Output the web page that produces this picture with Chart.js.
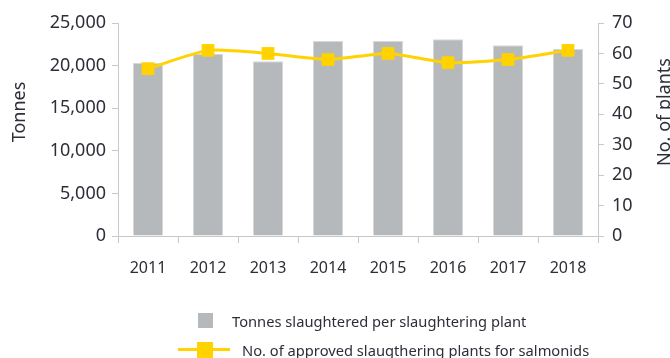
<!DOCTYPE html>
<html>
<head>
<meta charset="utf-8">
<script src="https://cdn.jsdelivr.net/npm/chart.js@4.4.1/dist/chart.umd.min.js"></script>
<style>
  html, body { margin: 0; padding: 0; background: #fff; }
  #wrap { position: relative; width: 670px; height: 358px; overflow: hidden; font-family: "Noto Sans", sans-serif; color: #2e2e38; }
  #chart { position: absolute; left: 0; top: 0; }
  .lg { position: absolute; font-size: 14.7px; line-height: 20px; white-space: nowrap; color: #2e2e38; }
  .sw { position: absolute; }
</style>
</head>
<body>
<div id="wrap">
  <canvas id="chart" width="670" height="358"></canvas>
  <div class="sw" style="left:198px;top:313px;width:15px;height:15px;background:#b6b9bc;"></div>
  <div class="lg" style="left:232px;top:311px;">Tonnes slaughtered per slaughtering plant</div>
  <div class="sw" style="left:178px;top:348px;width:52px;height:3px;background:#ffd200;"></div>
  <div class="sw" style="left:197px;top:342px;width:16px;height:16px;background:#ffd200;"></div>
  <div class="lg" style="left:242px;top:340px;">No. of approved slaugthering plants for salmonids</div>
</div>
<script>
// Years on the category axis
const years = ['2011', '2012', '2013', '2014', '2015', '2016', '2017', '2018'];
// Tonnes slaughtered per slaughtering plant (left axis)
const tonnesPerPlant = [20300, 21400, 20500, 22900, 22900, 23100, 22400, 21950];
// Number of approved slaughtering plants for salmonids (right axis)
const approvedPlants = [55, 61, 60, 58, 60, 57, 58, 61];

const leftTitle = 'Tonnes';
const rightTitle = 'No. of plants';
const textColor = '#2e2e38';
const axisColor = '#c6c8ca';
const tickFont = { family: 'Noto Sans', size: 18 };

// Both axis titles read bottom-to-top, centred on the same height
const axisTitles = {
  id: 'axisTitles',
  afterDraw(chart) {
    const ctx = chart.ctx;
    ctx.save();
    ctx.fillStyle = textColor;
    ctx.font = '18px "Noto Sans"';
    ctx.textAlign = 'center';
    ctx.textBaseline = 'middle';
    const yMid = 112;
    [[20, leftTitle], [665, rightTitle]].forEach(([x, t]) => {
      ctx.save();
      ctx.translate(x, yMid);
      ctx.rotate(-Math.PI / 2);
      ctx.fillText(t, 0, 0);
      ctx.restore();
    });
    ctx.restore();
  }
};

new Chart(document.getElementById('chart'), {
  type: 'bar',
  data: {
    labels: years,
    datasets: [
      {
        type: 'line',
        label: 'No. of approved slaugthering plants for salmonids',
        data: approvedPlants,
        yAxisID: 'y1',
        borderColor: '#ffd200',
        backgroundColor: '#ffd200',
        borderWidth: 3,
        pointStyle: 'rect',
        pointRadius: 9,
        pointBorderWidth: 0,
        tension: 0.2,
        order: 1
      },
      {
        type: 'bar',
        label: 'Tonnes slaughtered per slaughtering plant',
        data: tonnesPerPlant,
        yAxisID: 'y',
        backgroundColor: '#b6b9bc',
        borderColor: '#d6d8da',
        borderWidth: 1,
        barPercentage: 0.5,
        categoryPercentage: 1,
        order: 2
      }
    ]
  },
  options: {
    responsive: false,
    animation: false,
    layout: { padding: { top: 23, bottom: 82, left: 0, right: 0 } },
    plugins: { legend: { display: false }, tooltip: { enabled: false } },
    scales: {
      x: {
        offset: true,
        grid: { display: true, drawOnChartArea: false, drawTicks: true, tickLength: 7, color: axisColor, offset: true },
        border: { display: true, color: axisColor, width: 1 },
        ticks: { color: textColor, font: { family: 'Noto Sans', size: 16 }, padding: 16, maxRotation: 0 },
        afterFit(s) { s.height = 40; }
      },
      y: {
        position: 'left',
        min: 0, max: 25000,
        ticks: { stepSize: 5000, color: textColor, font: tickFont, padding: 6,
                 callback: v => v.toLocaleString('en-US') },
        grid: { display: true, drawOnChartArea: false, drawTicks: true, tickLength: 6, color: axisColor },
        border: { display: true, color: axisColor, width: 1 },
        afterFit(s) { s.width = 118; }
      },
      y1: {
        position: 'right',
        min: 0, max: 70,
        ticks: { stepSize: 10, color: textColor, font: tickFont, padding: 8 },
        grid: { display: true, drawOnChartArea: false, drawTicks: true, tickLength: 6, color: axisColor },
        border: { display: true, color: axisColor, width: 1 },
        afterFit(s) { s.width = 72; }
      }
    }
  },
  plugins: [axisTitles]
});
</script>
</body>
</html>
